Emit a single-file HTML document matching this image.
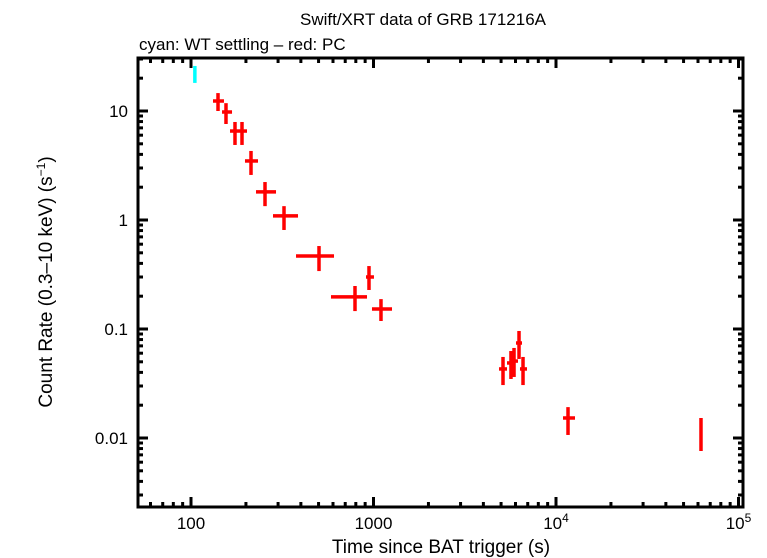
<!DOCTYPE html>
<html><head><meta charset="utf-8"><style>
body{margin:0;background:#fff}
svg{display:block;font-family:"Liberation Sans",sans-serif}
</style></head><body>
<svg id="chart" width="767" height="558" xmlns="http://www.w3.org/2000/svg">
<text x="423" y="25" font-size="17" text-anchor="middle">Swift/XRT data of GRB 171216A</text>
<text x="139" y="50" font-size="17">cyan: WT settling – red: PC</text>
<text x="441" y="553" font-size="19" text-anchor="middle">Time since BAT trigger (s)</text>
<text transform="translate(52,282) rotate(-90)" font-size="19" text-anchor="middle">Count Rate (0.3–10 keV) (s<tspan font-size="12" dy="-7">−1</tspan><tspan dy="7">)</tspan></text>
<g id="axes"></g><g id="marks"></g>
<rect x="138" y="58" width="605" height="449" fill="none" stroke="#000" stroke-width="3"/>
</svg>
<script>
const xTickVals=[100,1000,10000,100000];
const xTickBase=["100","1000","10","10"];
const xTickExp=["","","4","5"];
const yTickVals=[10,1,0.1,0.01];
const yTickLabels=["10","1","0.1","0.01"];
const wtT=[105], wtTlo=[104], wtThi=[106], wtR=[21.4], wtRlo=[18.1], wtRhi=[25.9];
const pcT=[140.6,155.5,174.2,190.3,213.2,254.4,323.3,502.8,791.8,944.7,1099,5124,5666,5888,6271,6596,11636,62300];
const pcTlo=[132,147.9,163.6,180.9,197.6,227.1,281.4,376.2,584.9,909.7,981,4873,5389,5596,6036,6348,10925,61500];
const pcThi=[151.6,167.8,180.9,202.7,232.9,292.3,385.8,607.6,921.3,1006,1263,5389,5958,6192,6513,6937,12711,63100];
const pcR=[12.35,9.79,6.55,6.55,3.48,1.81,1.09,0.467,0.197,0.300,0.1526,0.0430,0.0488,0.0508,0.0744,0.0430,0.01526,0.01111];
const pcRlo=[10,7.6,4.88,4.88,2.59,1.34,0.81,0.340,0.146,0.228,0.1184,0.0306,0.0348,0.0363,0.0531,0.0306,0.01066,0.0076];
const pcRhi=[14.6,11.8,7.93,7.93,4.30,2.23,1.34,0.577,0.248,0.378,0.188,0.0554,0.0628,0.0670,0.0959,0.0554,0.0192,0.01526];
const L=138,R=743,T=58,B=507;
function xs(t){return 191+182.5*Math.log10(t/100);}
function ys(r){return 220-109*Math.log10(r);}
const NS="http://www.w3.org/2000/svg";
function mk(tag,attrs,parent){const e=document.createElementNS(NS,tag);for(const k in attrs)e.setAttribute(k,attrs[k]);parent.appendChild(e);return e;}
const ax=document.getElementById('axes'),mg=document.getElementById('marks');
for(let d=1;d<=5;d++){for(let m=1;m<10;m++){const v=m*Math.pow(10,d);const x=xs(v);if(x<L||x>R)continue;const len=m===1?10:5;
const t1=mk('line',{x1:x,x2:x,y1:B,y2:B-len,stroke:'#000','stroke-width':3},ax);


mk('line',{x1:x,x2:x,y1:T,y2:T+len,stroke:'#000','stroke-width':3},ax);}}
for(let d=-3;d<=2;d++){for(let m=1;m<10;m++){const v=m*Math.pow(10,d);const y=ys(v);if(y<T||y>B)continue;const len=m===1?10:5;
const t2=mk('line',{x1:L,x2:L+len,y1:y,y2:y,stroke:'#000','stroke-width':3},ax);


mk('line',{x1:R,x2:R-len,y1:y,y2:y,stroke:'#000','stroke-width':3},ax);}}
xTickVals.forEach((v,i)=>{const t=mk('text',{x:xs(v),y:529,'font-size':17,'text-anchor':'middle'},ax);


const a=mk('tspan',{},t);a.textContent=xTickBase[i];
if(xTickExp[i]){const b=mk('tspan',{dy:-7,'font-size':12},t);b.textContent=xTickExp[i];}});
yTickVals.forEach((v,i)=>{const t=mk('text',{x:128,y:ys(v)+6,'font-size':17,'text-anchor':'end'},ax);t.textContent=yTickLabels[i];

});
function draw(T_,Tl,Th,Rv,Rl,Rh,color,name){for(let i=0;i<T_.length;i++){const g=mk('g',{},mg);


mk('line',{x1:xs(Tl[i]),x2:xs(Th[i]),y1:ys(Rv[i]),y2:ys(Rv[i]),stroke:color,'stroke-width':3.5},g);
mk('line',{x1:xs(T_[i]),x2:xs(T_[i]),y1:ys(Rl[i]),y2:ys(Rh[i]),stroke:color,'stroke-width':3.5},g);}}
draw(wtT,wtTlo,wtThi,wtR,wtRlo,wtRhi,'#00ffff','wt-point');
draw(pcT,pcTlo,pcThi,pcR,pcRlo,pcRhi,'#ff0000','pc-point');
</script>
</body></html>
